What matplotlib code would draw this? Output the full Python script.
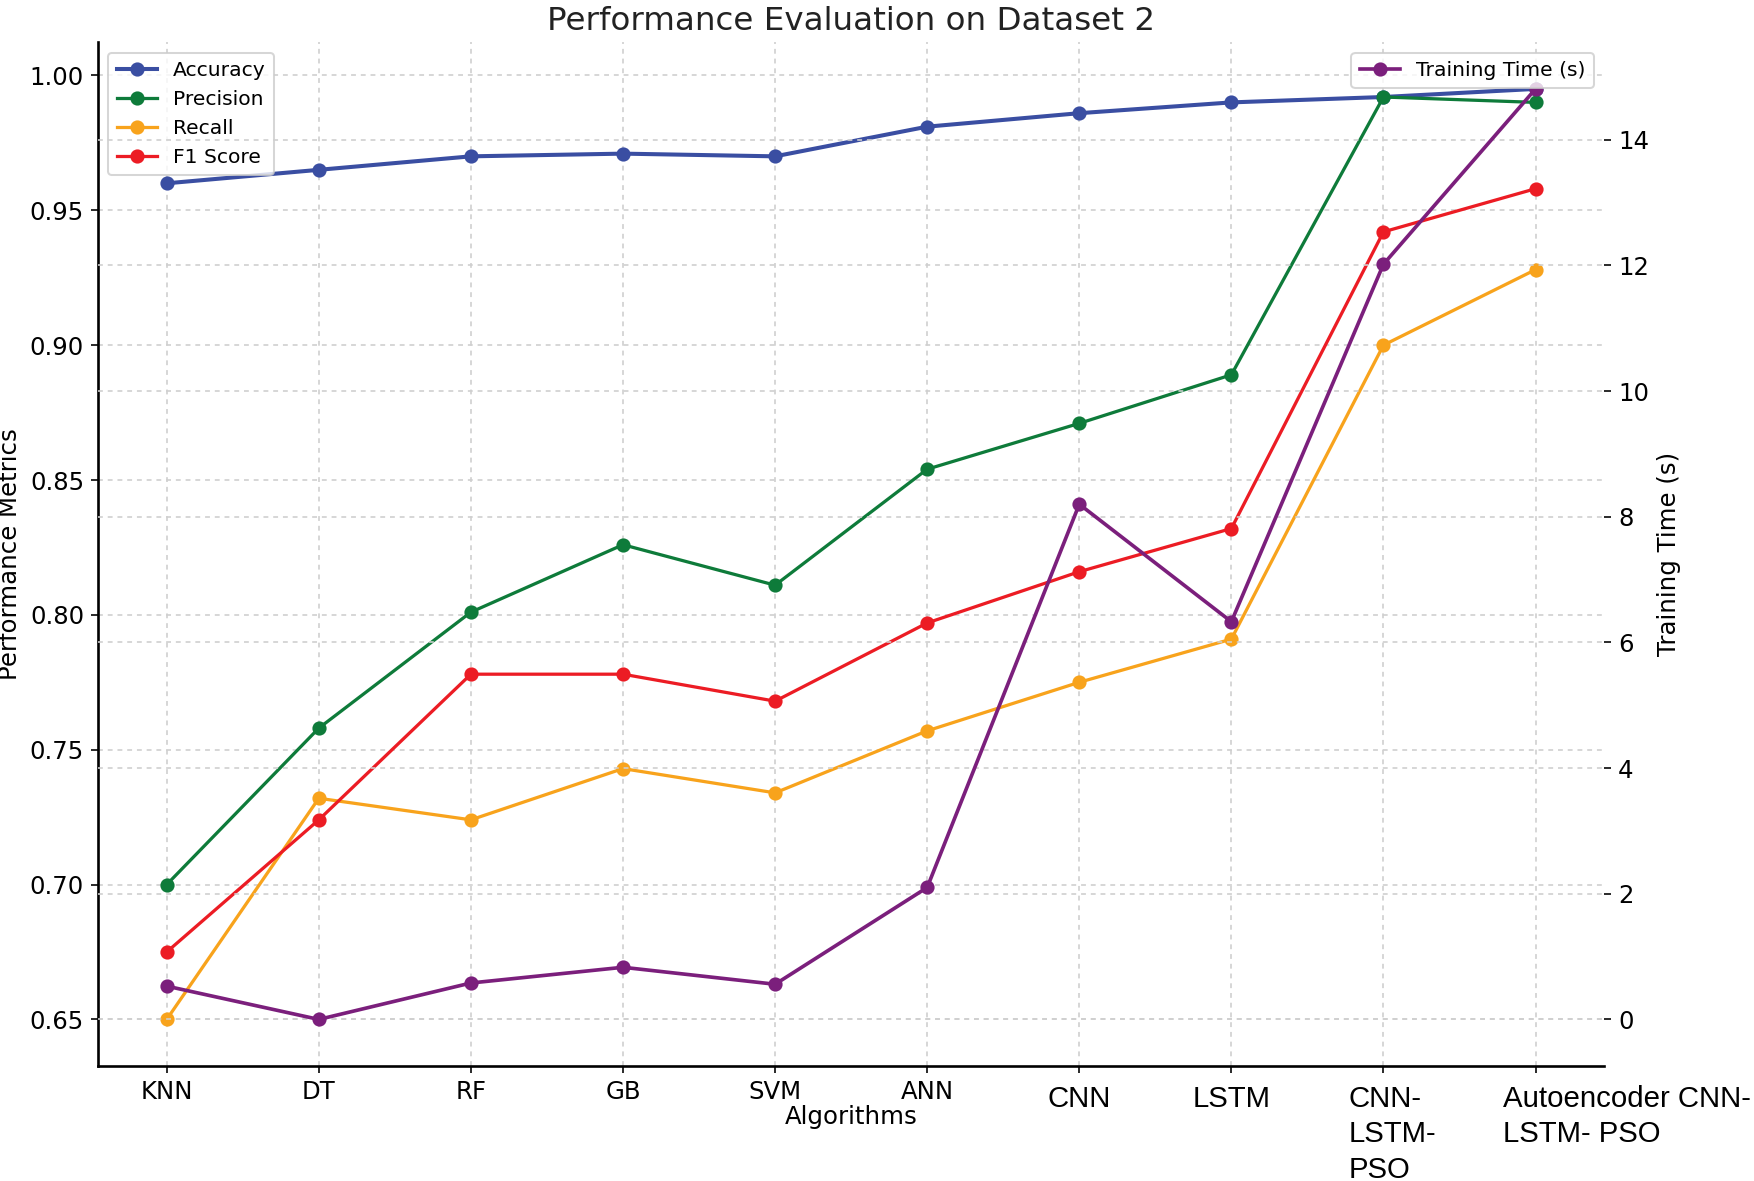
import matplotlib.pyplot as plt
from matplotlib.transforms import ScaledTranslation

algorithms = ["KNN", "DT", "RF", "GB", "SVM", "ANN", "CNN", "LSTM",
              "CNN-\nLSTM-\nPSO", "Autoencoder CNN-\nLSTM- PSO"]
accuracy = [0.960, 0.965, 0.970, 0.971, 0.970, 0.981, 0.986, 0.990, 0.992, 0.995]
precision = [0.700, 0.758, 0.801, 0.826, 0.811, 0.854, 0.871, 0.889, 0.992, 0.990]
recall = [0.650, 0.732, 0.724, 0.743, 0.734, 0.757, 0.775, 0.791, 0.900, 0.928]
f1_score = [0.675, 0.724, 0.778, 0.778, 0.768, 0.797, 0.816, 0.832, 0.942, 0.958]
training_time = [0.53, 0.0, 0.58, 0.83, 0.56, 2.1, 8.2, 6.33, 12.02, 14.81]

x = list(range(len(algorithms)))

fig, ax1 = plt.subplots(figsize=(12.02, 8.09), dpi=146)
fig.subplots_adjust(left=0.056, right=0.914, top=0.964, bottom=0.0974)

grid_kw = dict(linestyle=(0, (3, 3)), color="#cfcfcf", linewidth=0.8)

ax1.plot(x, accuracy, "-o", color="#3a4ea2", lw=2, ms=6, label="Accuracy")
ax1.plot(x, precision, "-o", color="#0e7b3a", lw=1.6, ms=6, label="Precision")
ax1.plot(x, recall, "-o", color="#f8a31c", lw=1.6, ms=6, label="Recall")
ax1.plot(x, f1_score, "-o", color="#ec1c24", lw=1.6, ms=6, label="F1 Score")
ax1.set_ylabel("Performance Metrics", fontsize=12)
ax1.set_title("Performance Evaluation on Dataset 2", fontsize=16, color="#222222")
ax1.grid(True, **grid_kw)
ax1.tick_params(labelsize=12)

ax2 = ax1.twinx()
ax2.plot(x, training_time, "-o", color="#7b1f7c", lw=1.8, ms=6, label="Training Time (s)")
ax2.set_ylabel("Training Time (s)", fontsize=12)
ax2.grid(True, axis="y", **grid_kw)
ax2.tick_params(labelsize=12)

for s in ["top", "right"]:
    ax1.spines[s].set_visible(False)
for s in ax2.spines.values():
    s.set_visible(False)
for s in ["left", "bottom"]:
    ax1.spines[s].set_linewidth(1.3)
    ax1.spines[s].set_color("black")

ax1.set_xticks(x)
ax1.set_xticklabels(algorithms)
labels = ax1.get_xticklabels()
for i, lab in enumerate(labels):
    if i >= 6:
        lab.set_fontfamily("Liberation Sans")
        lab.set_fontsize(14.5)
        lab.set_linespacing(1.35)
    else:
        lab.set_fontsize(12)
for i, dx in [(6, 0.0), (7, 0.0), (8, -0.24), (9, -0.22)]:
    if i >= 8:
        labels[i].set_horizontalalignment("left")
        labels[i].set_multialignment("left")
    labels[i].set_transform(labels[i].get_transform()
                            + ScaledTranslation(dx, -0.03, fig.dpi_scale_trans))

ax1.set_xlabel("Algorithms", fontsize=12)
ax1.xaxis.set_label_coords(0.5, -0.038)

ax1.legend(loc="upper left", fontsize=10)
ax2.legend(loc="upper right", fontsize=10)

plt.savefig("out.png", dpi=146)
